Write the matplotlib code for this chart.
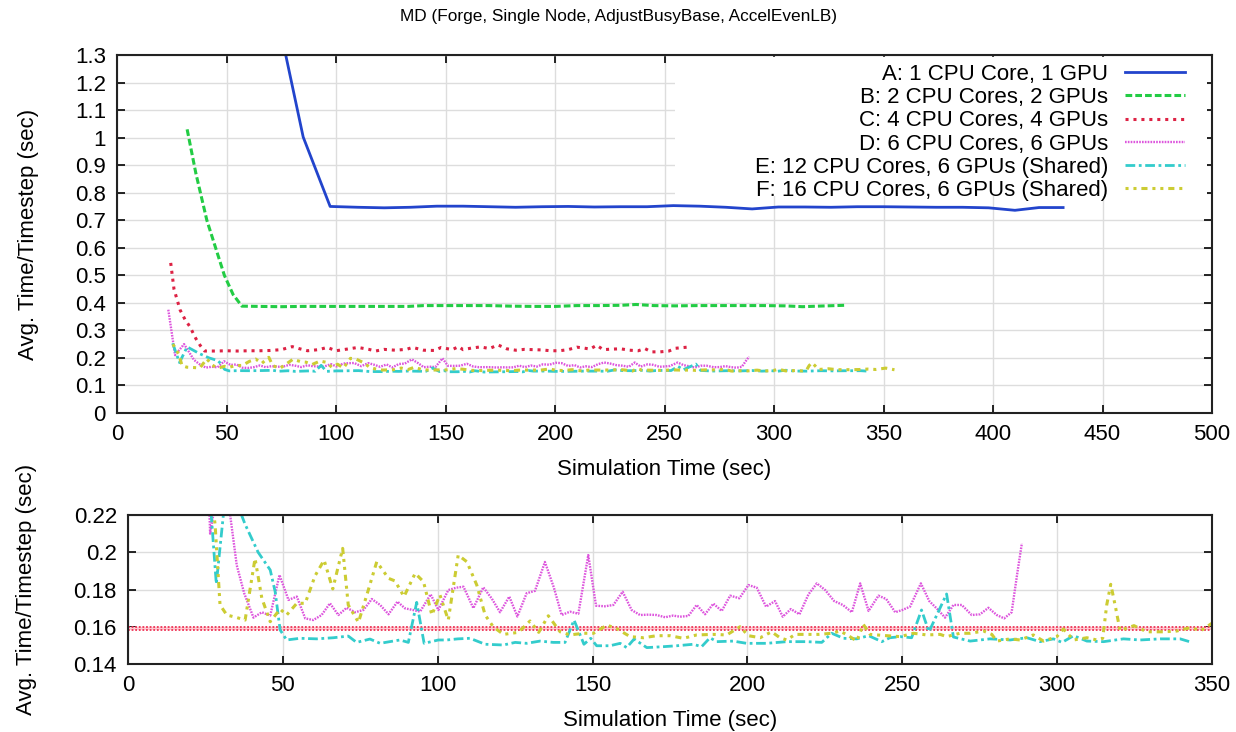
import numpy as np
import matplotlib
matplotlib.use("Agg")
import matplotlib.pyplot as plt
from matplotlib.patches import Rectangle
from matplotlib.ticker import FormatStrFormatter

plt.rcParams['font.family'] = ['Liberation Sans', 'DejaVu Sans']

# ---- data (simulation time in sec, avg time per timestep in sec) ----
a_t = [73, 85, 97.3, 110, 122, 134, 146, 158, 170, 182, 194, 206, 218, 230, 242, 254,
       266, 278, 290, 302, 314, 326, 338, 350, 362, 374, 386, 398, 410, 421, 432]
a_v = [1.45, 1.002, 0.75, 0.747, 0.745, 0.747, 0.751, 0.751, 0.749, 0.747, 0.749, 0.75,
       0.748, 0.749, 0.749, 0.753, 0.751, 0.747, 0.741, 0.748, 0.748, 0.747, 0.749, 0.749,
       0.748, 0.747, 0.747, 0.745, 0.736, 0.746, 0.746]

b_t = [32, 36, 41, 45, 49, 53, 57, 65, 75, 85, 95, 105, 115, 125, 133, 140, 150, 160, 170,
       180, 190, 200, 210, 220, 230, 237, 245, 255, 265, 275, 285, 295, 305, 313, 320, 332]
b_v = [1.03, 0.87, 0.70, 0.60, 0.50, 0.43, 0.388, 0.387, 0.386, 0.387, 0.387, 0.387, 0.387,
       0.387, 0.387, 0.39, 0.39, 0.39, 0.39, 0.388, 0.387, 0.387, 0.39, 0.39, 0.391, 0.394,
       0.39, 0.389, 0.39, 0.39, 0.39, 0.39, 0.389, 0.386, 0.388, 0.391]

c_t = [24.5, 26, 28.8, 31, 33.3, 36, 38, 40, 45, 50, 55, 60, 65, 70, 75, 80, 83, 87, 92, 96,
       100, 105, 110, 115, 118, 122, 127, 132, 135, 140, 145, 148, 153, 156, 158, 162, 166,
       170, 174, 178, 182, 186, 190, 194, 198, 202, 206, 210, 213, 216, 219, 222, 226, 230,
       234, 238, 241, 244, 248, 252, 255, 259, 262]
c_v = [0.545, 0.45, 0.374, 0.34, 0.313, 0.27, 0.245, 0.225, 0.225, 0.226, 0.225, 0.226,
       0.226, 0.227, 0.23, 0.241, 0.234, 0.226, 0.23, 0.238, 0.226, 0.232, 0.238, 0.231,
       0.225, 0.231, 0.228, 0.231, 0.238, 0.228, 0.227, 0.238, 0.23, 0.241, 0.23, 0.236,
       0.24, 0.234, 0.247, 0.233, 0.228, 0.231, 0.23, 0.229, 0.226, 0.226, 0.23, 0.239,
       0.236, 0.232, 0.246, 0.23, 0.232, 0.233, 0.228, 0.226, 0.234, 0.222, 0.222, 0.225,
       0.235, 0.238, 0.24]

d_t = [23.4, 26.5, 30.6, 35.1, 37.5, 40.5, 43.2, 45.9, 48.9, 51.8, 54.5, 57.2, 59.8, 62.5,
       65.2, 67.9, 70.6, 73.3, 76, 78.7, 81.4, 84.1, 87, 89.4, 92, 94.3, 97.7, 100.2, 103.4,
       106, 108.3, 111.5, 114.7, 117.5, 120.1, 123.1, 125.7, 128.7, 131.4, 134.6, 137.5,
       140, 142.7, 145.4, 148.6, 151.1, 154, 156.7, 159.7, 162.6, 165.3, 168, 170.7, 173.4,
       176, 178.2, 180.9, 183.6, 186.3, 189, 191.7, 194.4, 197.4, 200.3, 203, 206, 208.9,
       211.4, 214, 216.8, 219.7, 222.4, 225.1, 228, 230.8, 233.7, 236.4, 239.1, 242.3,
       244.8, 247.7, 250, 252.5, 256, 258.7, 261.6, 263.8, 266.5, 269.2, 272.4, 275.1,
       277.8, 280.5, 282.9, 285.3, 287.2, 288.6]
d_v = [0.375, 0.21, 0.25, 0.193, 0.178, 0.1649, 0.1678, 0.166, 0.1878, 0.1744, 0.1762,
       0.1645, 0.1636, 0.1663, 0.1726, 0.1663, 0.1702, 0.1678, 0.169, 0.1749, 0.1717,
       0.1667, 0.1735, 0.1699, 0.169, 0.1681, 0.1774, 0.169, 0.1797, 0.181, 0.1815, 0.170,
       0.1812, 0.175, 0.1678, 0.1762, 0.1655, 0.178, 0.1793, 0.1948, 0.181, 0.1663, 0.1681,
       0.167, 0.1985, 0.1713, 0.171, 0.1717, 0.1788, 0.169, 0.1663, 0.1665, 0.1663, 0.1651,
       0.166, 0.1654, 0.1658, 0.1717, 0.1667, 0.1724, 0.1685, 0.1767, 0.1753, 0.1824,
       0.181, 0.1708, 0.1738, 0.1654, 0.1695, 0.1667, 0.1774, 0.1833, 0.1797, 0.1738,
       0.1717, 0.1678, 0.1833, 0.1685, 0.1767, 0.1749, 0.1678, 0.169, 0.1708, 0.1833,
       0.1738, 0.169, 0.1649, 0.1717, 0.1717, 0.1663, 0.1667, 0.1702, 0.1663, 0.1645,
       0.1678, 0.1896, 0.2048]

e_t = [25.4, 28.5, 32, 37.8, 42, 45.9, 47.5, 49.1, 51.2, 55.5, 60.9, 66.3, 71.1, 73.8,
       78.1, 81.4, 84.5, 87.8, 90.5, 93.2, 95.6, 100.2, 102.9, 106.5, 110.4, 115.3, 121.2,
       125, 128.7, 133, 137.3, 141.1, 144, 147.2, 149.4, 151.3, 155.6, 158.9, 161, 163.4,
       167.5, 172.8, 177.2, 182.5, 185.2, 187.9, 190.1, 195.4, 199.7, 206.2, 212.7, 219.1,
       224, 227.2, 231, 235.3, 239.1, 243.4, 246, 249.3, 253, 256.2, 258.6, 264.3, 266.5,
       271.9, 278.3, 284.8, 290.2, 294.5, 298.8, 301.6, 305.3, 309.6, 315, 321.4, 326.8,
       333.3, 339.7, 342.7]
e_v = [0.253, 0.183, 0.24, 0.215, 0.2, 0.1905, 0.1788, 0.1583, 0.1529, 0.1538, 0.1535,
       0.1541, 0.155, 0.1516, 0.1534, 0.1511, 0.152, 0.1529, 0.1516, 0.1731, 0.1511,
       0.1529, 0.1529, 0.1535, 0.1538, 0.1506, 0.1502, 0.1516, 0.1511, 0.1523, 0.1516,
       0.1516, 0.1636, 0.1506, 0.1538, 0.1498, 0.1498, 0.1511, 0.1488, 0.1534, 0.1488,
       0.1493, 0.1498, 0.1506, 0.1493, 0.1541, 0.152, 0.1523, 0.1511, 0.1511, 0.152, 0.152,
       0.1516, 0.1565, 0.1538, 0.1535, 0.1552, 0.152, 0.1541, 0.1547, 0.1541, 0.1690,
       0.1573, 0.1776, 0.1545, 0.1523, 0.1535, 0.1529, 0.1541, 0.152, 0.1535, 0.1516,
       0.1552, 0.1523, 0.152, 0.1535, 0.1529, 0.1535, 0.1535, 0.152]

f_t = [25.5, 28.1, 29.7, 31.9, 35, 37.8, 41, 43.2, 45.9, 49.1, 51.2, 54.5, 57.2, 60.4, 63.3,
       66.1, 69.3, 71.1, 74.4, 77.1, 80.3, 84.1, 86.2, 89.1, 92.7, 95.4, 98.1, 100.7, 103.4,
       106.6, 109.4, 112.6, 115.3, 117.9, 121.2, 126, 129.8, 132.6, 135.7, 139.5, 142.7,
       147, 150.3, 154.6, 157.8, 162.1, 166.4, 170.7, 175, 179.3, 183.6, 189, 193.3, 197.6,
       200.3, 204.1, 207.8, 210.5, 212.7, 215.4, 219.1, 223, 227.2, 229.9, 232.6, 235.3,
       237.4, 239.6, 245, 249.3, 253.6, 257.9, 262.2, 264.3, 268.6, 271.9, 276.2, 278.9,
       280.5, 284.8, 288, 292.3, 295.6, 299.9, 302, 305.3, 309.6, 312.8, 314.7, 316, 317.3,
       318.7, 320.3, 324.8, 328.9, 334.3, 338.6, 342.9, 346.5, 351, 355]
f_v = [0.25, 0.215, 0.1717, 0.1663, 0.165, 0.1636, 0.1967, 0.1753, 0.1627, 0.1695, 0.1663,
       0.1726, 0.1726, 0.1874, 0.1958, 0.1803, 0.2021, 0.1717, 0.1624, 0.1771, 0.1949,
       0.186, 0.1846, 0.1762, 0.1887, 0.1842, 0.1663, 0.1771, 0.1636, 0.1985, 0.1949,
       0.1824, 0.1663, 0.16, 0.1559, 0.157, 0.1631, 0.157, 0.1659, 0.1573, 0.1556, 0.1565,
       0.1565, 0.1609, 0.159, 0.1547, 0.1541, 0.1552, 0.1552, 0.1538, 0.1556, 0.1559,
       0.1556, 0.16, 0.1552, 0.1541, 0.1573, 0.1541, 0.1529, 0.1559, 0.1559, 0.1559,
       0.1565, 0.1577, 0.1552, 0.1523, 0.1613, 0.1559, 0.1552, 0.1547, 0.1565, 0.1556,
       0.1559, 0.1547, 0.1565, 0.1565, 0.1577, 0.1559, 0.1523, 0.1535, 0.1529, 0.1556,
       0.1523, 0.1547, 0.1588, 0.1529, 0.1541, 0.1529, 0.1538, 0.1717, 0.1828, 0.1717,
       0.158, 0.1606, 0.1573, 0.1573, 0.1577, 0.1595, 0.158, 0.163, 0.157]

ref_level = 0.1592

labels = ["A: 1 CPU Core, 1 GPU", "B: 2 CPU Cores, 2 GPUs", "C: 4 CPU Cores, 4 GPUs",
          "D: 6 CPU Cores, 6 GPUs", "E: 12 CPU Cores, 6 GPUs (Shared)",
          "F: 16 CPU Cores, 6 GPUs (Shared)"]

styles = {
    'A': dict(color='#2244cc', lw=2.0, ls='-'),
    'B': dict(color='#22cc44', lw=2.2, ls=(0, (2.2, 1.0))),
    'C': dict(color='#dd2244', lw=2.2, ls=(0, (1.0, 1.6))),
    'D': dict(color='#dd55dd', lw=1.7, ls=(0, (0.7, 0.5))),
    'E': dict(color='#33cccc', lw=2.0, ls=(0, (3.5, 1.3, 1.0, 1.3))),
    'F': dict(color='#cccc33', lw=2.2, ls=(0, (1.0, 1.6, 1.0, 1.6, 2.0, 1.6))),
}

series = [('A', a_t, a_v), ('B', b_t, b_v), ('C', c_t, c_v),
          ('D', d_t, d_v), ('E', e_t, e_v), ('F', f_t, f_v)]

FS = 16
grid_kw = dict(color='#dddddd', lw=1.0)


def style_axes(ax):
    ax.grid(True, **grid_kw)
    ax.set_axisbelow(True)
    ax.tick_params(direction='in', top=True, right=True, length=6, width=1.2,
                   labelsize=FS, pad=8)
    for s in ax.spines.values():
        s.set_linewidth(1.5)
        s.set_color('#222222')


fig = plt.figure(figsize=(12.36, 7.32), dpi=100)
ax1 = fig.add_axes([0.0947, 0.4358, 0.8859, 0.4891])
ax2 = fig.add_axes([0.1036, 0.0929, 0.8770, 0.2035])

fig.text(0.5, 1 - 16 / 732, "MD (Forge, Single Node, AdjustBusyBase, AccelEvenLB)",
         ha='center', va='center', fontsize=12.4)

# ---- upper panel ----
for (key, t, v), lab in zip(series, labels):
    ax1.plot(t, v, label=lab, **styles[key])
ax1.set_xlim(0, 500)
ax1.set_ylim(0, 1.3)
ax1.set_xticks(np.arange(0, 501, 50))
ax1.set_yticks(np.arange(0, 1.31, 0.1))
ax1.yaxis.set_major_formatter(FormatStrFormatter('%g'))
style_axes(ax1)
ax1.set_xlabel("Simulation Time (sec)", fontsize=FS, labelpad=10)
ax1.set_ylabel("Avg. Time/Timestep (sec)", fontsize=FS, labelpad=26)

# opaque key area like the original
ax1.add_patch(Rectangle((0.51, 0.605), 0.485, 0.39, transform=ax1.transAxes,
                        facecolor='white', edgecolor='none', zorder=1))
ax1.legend(loc='upper right', bbox_to_anchor=(0.975, 0.975), frameon=False,
           markerfirst=False, fontsize=FS, handlelength=2.7, handletextpad=0.75,
           labelspacing=0.1, borderpad=0, borderaxespad=0)

# ---- lower panel (zoomed view of D, E, F) ----
ax2.axhspan(ref_level - 0.0009, ref_level + 0.0009, color='#ffc8d0', lw=0, zorder=0.8)
ax2.axhline(ref_level + 0.0008, color='#ee3355', lw=1.3, ls=(0, (1, 1)))
ax2.axhline(ref_level - 0.0008, color='#ee3355', lw=1.3, ls=(0, (1, 1)))
for key, t, v in series[3:]:
    ax2.plot(t, v, **styles[key])
ax2.set_xlim(0, 350)
ax2.set_ylim(0.14, 0.22)
ax2.set_xticks(np.arange(0, 351, 50))
ax2.set_yticks([0.14, 0.16, 0.18, 0.20, 0.22])
ax2.yaxis.set_major_formatter(FormatStrFormatter('%g'))
style_axes(ax2)
ax2.set_xlabel("Simulation Time (sec)", fontsize=FS, labelpad=10)
ax2.set_ylabel("Avg. Time/Timestep (sec)", fontsize=FS, labelpad=26)

fig.savefig("out.png", dpi=100)
